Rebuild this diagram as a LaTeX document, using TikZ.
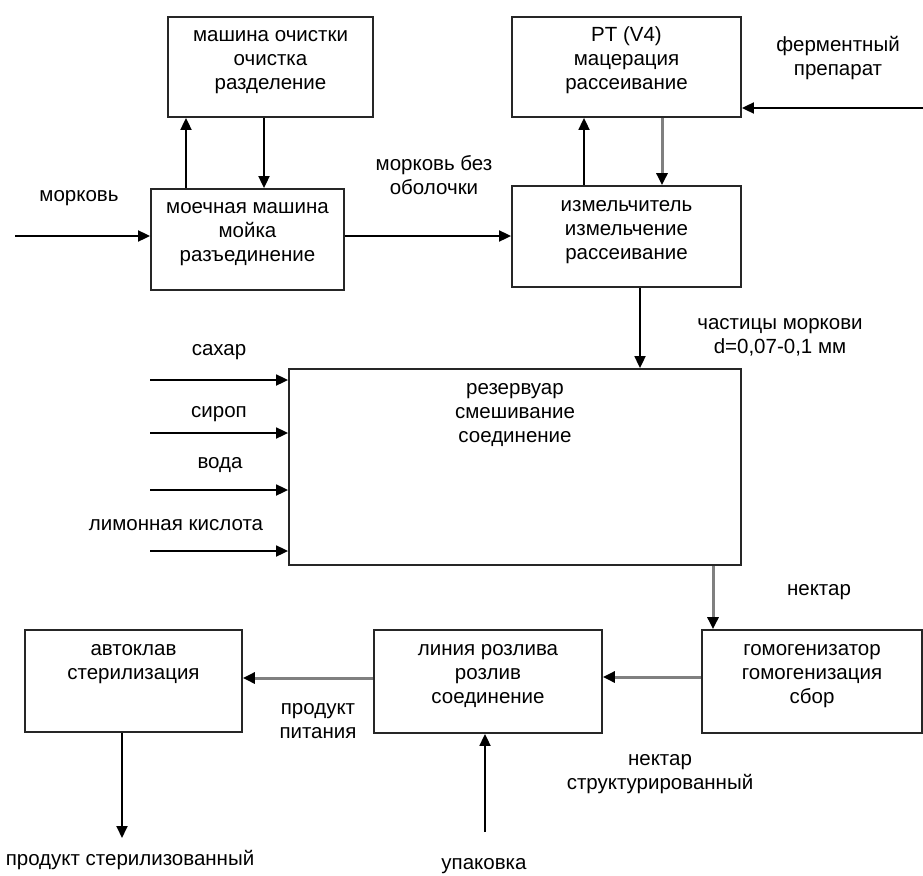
\documentclass[tikz,border=0pt]{standalone}
\usepackage{fontspec}
\setmainfont{Liberation Sans}
\usetikzlibrary{arrows.meta}
\begin{document}
\begin{tikzpicture}[x=1pt,y=-1pt,
  box/.style={draw=black!85, line width=1.8pt, rectangle, inner sep=0pt},
  btxt/.style={anchor=north, align=center, inner sep=0pt, font=\fontsize{20.5}{24}\selectfont},
  lbl/.style={align=center, inner sep=0pt, font=\fontsize{20.5}{24}\selectfont},
  arr/.style={draw=black, line width=1.8pt, -{Triangle[length=12pt,width=11pt]}},
  garr/.style={color=black!50, line width=3pt, -{Triangle[length=12pt,width=11pt,color=black,fill=black]}}
]
\useasboundingbox (0,0) rectangle (923,875);
% boxes
\node[box, minimum width=205pt, minimum height=100pt] (clean) at (270.5,67) {};
\node[box, minimum width=193pt, minimum height=101pt] (wash) at (247.5,239.5) {};
\node[box, minimum width=229pt, minimum height=100pt] (rt) at (626.5,67) {};
\node[box, minimum width=229pt, minimum height=101pt] (grind) at (626.5,236.5) {};
\node[box, minimum width=452pt, minimum height=196pt] (res) at (515,467) {};
\node[box, minimum width=220pt, minimum height=103pt] (homo) at (812,681.5) {};
\node[box, minimum width=228pt, minimum height=103pt] (bott) at (488,681.5) {};
\node[box, minimum width=217pt, minimum height=102pt] (auto) at (133.5,681) {};
% box texts
\node[btxt] (cleant) at (270.5,24) {\strut машина очистки\\очистка\\разделение};
\node[btxt] (washt) at (247.5,196) {\strut моечная машина\\мойка\\разъединение};
\node[btxt] (rtt) at (626.5,24) {\strut PT (V4)\\мацерация\\рассеивание};
\node[btxt] (grindt) at (626.5,194) {\strut измельчитель\\измельчение\\рассеивание};
\node[btxt] (rest) at (515,377) {\strut резервуар\\смешивание\\соединение};
\node[btxt] (homot) at (812,638) {\strut гомогенизатор\\гомогенизация\\сбор};
\node[btxt] (bottt) at (488,638) {\strut линия розлива\\розлив\\соединение};
\node[btxt] (autot) at (133.5,638) {\strut автоклав\\стерилизация};
% free labels
\node[lbl] (l1) at (79,198) {морковь};
\node[lbl] (l2) at (434,175) {морковь без\\оболочки};
\node[lbl] (l3) at (838,58) {ферментный\\препарат};
\node[lbl] (l4) at (780,337) {частицы моркови\\d=0,07-0,1 мм};
\node[lbl] (l5) at (219,352) {сахар};
\node[lbl] (l6) at (219,414) {сироп};
\node[lbl] (l7) at (220,465) {вода};
\node[lbl] (l8) at (176,525) {лимонная кислота};
\node[lbl] (l9) at (819,592) {нектар};
\node[lbl] (l10) at (660,774) {нектар\\структурированный};
\node[lbl] (l11) at (318,721) {продукт\\питания};
\node[lbl] (l12) at (130,860) {продукт стерилизованный};
\node[lbl] (l13) at (484,866) {упаковка};
% free ends
\coordinate (inCarrot) at (15,236);
\coordinate (inFerm) at (923,108);
\coordinate (inSugar) at (150,380);
\coordinate (inSyrup) at (150,433);
\coordinate (inWater) at (150,490);
\coordinate (inAcid) at (150,551);
\coordinate (outSter) at (122,838);
\coordinate (inPack) at (485,832);
% connectors
\draw[arr] (inCarrot) -- (inCarrot -| wash.west);
\draw[arr] ([xshift=-61.5pt]wash.north) -- ([xshift=-61.5pt]wash.north |- clean.south);
\draw[arr] ([xshift=-6.5pt]clean.south) -- ([xshift=-6.5pt]clean.south |- wash.north);
\draw[arr] ([yshift=3.5pt]wash.east) -- ([yshift=3.5pt]wash.east -| grind.west);
\draw[arr] ([xshift=-42.5pt]grind.north) -- ([xshift=-42.5pt]grind.north |- rt.south);
\draw[garr] ([xshift=35.5pt]rt.south) -- ([xshift=35.5pt]rt.south |- grind.north);
\draw[arr] (inFerm) -- (inFerm -| rt.east);
\draw[arr] ([xshift=13.5pt]grind.south) -- ([xshift=13.5pt]grind.south |- res.north);
\draw[arr] (inSugar) -- (inSugar -| res.west);
\draw[arr] (inSyrup) -- (inSyrup -| res.west);
\draw[arr] (inWater) -- (inWater -| res.west);
\draw[arr] (inAcid) -- (inAcid -| res.west);
\draw[garr] ([xshift=-99pt]homo.north |- res.south) -- ([xshift=-99pt]homo.north);
\draw[garr] ([yshift=4.5pt]homo.west) -- ([yshift=4.5pt]homo.west -| bott.east);
\draw[garr] ([yshift=3.5pt]bott.west) -- ([yshift=3.5pt]bott.west -| auto.east);
\draw[arr] ([xshift=-11.5pt]auto.south) -- (outSter);
\draw[arr] (inPack) -- (inPack |- bott.south);
\end{tikzpicture}
\end{document}
